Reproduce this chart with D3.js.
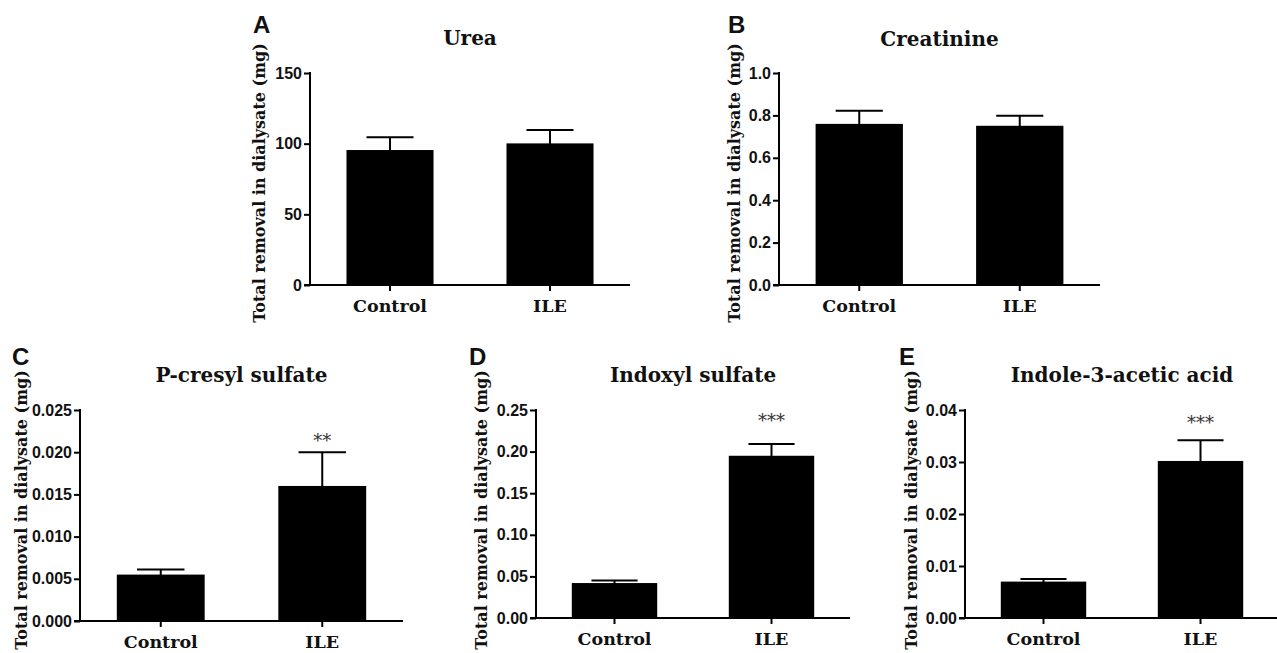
<!DOCTYPE html>
<html>
<head>
<meta charset="utf-8">
<script src="https://cdn.jsdelivr.net/npm/d3@7"></script>
<style>
  html, body { margin: 0; padding: 0; background: #fff; }
  svg { display: block; }
</style>
</head>
<body>
<svg id="chart" width="1277" height="653"></svg>
<script>
// ---------------- DATA ----------------
const categories = ["Control", "ILE"];
const panelLetters = ["A", "B", "C", "D", "E"];
const panelTitles = ["Urea", "Creatinine", "P-cresyl sulfate", "Indoxyl sulfate", "Indole-3-acetic acid"];
const yAxisTitle = "Total removal in dialysate (mg)";

const ureaMeans = [95.5, 100.2];
const ureaErrors = [9.0, 9.5];
const ureaTicks = [0, 50, 100, 150];

const creatinineMeans = [0.760, 0.751];
const creatinineErrors = [0.062, 0.047];
const creatinineTicks = [0.0, 0.2, 0.4, 0.6, 0.8, 1.0];

const pcresylMeans = [0.0055, 0.0160];
const pcresylErrors = [0.0006, 0.0040];
const pcresylTicks = [0.000, 0.005, 0.010, 0.015, 0.020, 0.025];

const indoxylMeans = [0.042, 0.195];
const indoxylErrors = [0.003, 0.014];
const indoxylTicks = [0.00, 0.05, 0.10, 0.15, 0.20, 0.25];

const iaaMeans = [0.0070, 0.0302];
const iaaErrors = [0.0005, 0.0040];
const iaaTicks = [0.00, 0.01, 0.02, 0.03, 0.04];

const significance = ["", "", "**", "***", "***"];
const significanceLevel = [null, null, 0.0206, 0.230, 0.0364];

// ---------------- LAYOUT ----------------
const allMeans = [ureaMeans, creatinineMeans, pcresylMeans, indoxylMeans, iaaMeans];
const allErrors = [ureaErrors, creatinineErrors, pcresylErrors, indoxylErrors, iaaErrors];
const allTicks = [ureaTicks, creatinineTicks, pcresylTicks, indoxylTicks, iaaTicks];
const tickFormats = [d3.format("d"), d3.format(".1f"), d3.format(".3f"), d3.format(".2f"), d3.format(".2f")];

const layout = [
  { lx: 253, ly: 33,  x0: 310, x1: 630,  yTop: 73,  yBot: 285, titleY: 45,  labX: 265, labCY: 183 },
  { lx: 728, ly: 33,  x0: 779, x1: 1100, yTop: 73,  yBot: 285, titleY: 46,  labX: 740, labCY: 183 },
  { lx: 12,  ly: 365, x0: 80,  x1: 403,  yTop: 410, yBot: 621, titleY: 382, labX: 27,  labCY: 510 },
  { lx: 469, ly: 365, x0: 536, x1: 850,  yTop: 410, yBot: 618, titleY: 382, labX: 487, labCY: 510 },
  { lx: 899, ly: 365, x0: 965, x1: 1279, yTop: 410, yBot: 618, titleY: 382, labX: 917, labCY: 510 }
];

const svg = d3.select("#chart");
const serif = "'DejaVu Serif', serif";
const sans = "'Liberation Sans', Arial, sans-serif";

layout.forEach((L, i) => {
  const g = svg.append("g");
  const ticks = allTicks[i];
  const x = d3.scaleBand().domain(categories).range([L.x0, L.x1])
    .paddingInner(0.456).paddingOuter(0.228);
  const y = d3.scaleLinear().domain([0, ticks[ticks.length - 1]]).range([L.yBot, L.yTop]);

  // panel letter
  g.append("text").attr("x", L.lx).attr("y", L.ly)
    .attr("font-family", sans).attr("font-weight", "bold").attr("font-size", 24)
    .attr("fill", "#111").text(panelLetters[i]);

  // title
  g.append("text").attr("x", (L.x0 + L.x1) / 2).attr("y", L.titleY)
    .attr("text-anchor", "middle").attr("font-family", serif).attr("font-weight", "bold")
    .attr("font-size", 20).attr("fill", "#111").text(panelTitles[i]);

  // y axis title
  g.append("text")
    .attr("transform", `translate(${L.labX},${L.labCY}) rotate(-90)`)
    .attr("text-anchor", "middle").attr("font-family", serif).attr("font-weight", "bold")
    .attr("font-size", 16).attr("fill", "#111").text(yAxisTitle);

  // bars
  const means = allMeans[i], errs = allErrors[i];
  g.selectAll("rect.bar").data(categories).join("rect")
    .attr("class", "bar")
    .attr("x", d => x(d)).attr("width", x.bandwidth())
    .attr("y", (d, k) => y(means[k])).attr("height", (d, k) => y(0) - y(means[k]))
    .attr("fill", "#000");

  // error bars (upper)
  const capHalf = x.bandwidth() * 0.27;
  categories.forEach((c, k) => {
    const cx = x(c) + x.bandwidth() / 2;
    g.append("line").attr("x1", cx).attr("x2", cx)
      .attr("y1", y(means[k]) + 2).attr("y2", y(means[k] + errs[k]))
      .attr("stroke", "#000").attr("stroke-width", 2);
    g.append("line").attr("x1", cx - capHalf).attr("x2", cx + capHalf)
      .attr("y1", y(means[k] + errs[k])).attr("y2", y(means[k] + errs[k]))
      .attr("stroke", "#000").attr("stroke-width", 2);
  });

  // y axis
  const yAxis = d3.axisLeft(y).tickValues(ticks).tickFormat(tickFormats[i])
    .tickSize(6).tickPadding(2).tickSizeOuter(0);
  const ya = g.append("g").attr("transform", `translate(${L.x0},0)`).call(yAxis);
  ya.select(".domain").attr("stroke", "#000").attr("stroke-width", 2)
    .attr("d", `M0,${L.yTop - 1}V${L.yBot + 1}`);
  ya.selectAll(".tick line").attr("stroke", "#000").attr("stroke-width", 2);
  ya.selectAll(".tick text").attr("font-family", sans).attr("font-weight", "bold")
    .attr("font-size", 16).attr("fill", "#111");

  // x axis
  const xAxis = d3.axisBottom(x).tickSize(6).tickPadding(9).tickSizeOuter(0);
  const xa = g.append("g").attr("transform", `translate(0,${L.yBot})`).call(xAxis);
  xa.select(".domain").attr("stroke", "#000").attr("stroke-width", 2)
    .attr("d", `M${L.x0 - 6},0H${L.x1}`);
  xa.selectAll(".tick line").attr("stroke", "#000").attr("stroke-width", 2);
  xa.selectAll(".tick text").attr("font-family", serif).attr("font-weight", "bold")
    .attr("font-size", 17.5).attr("fill", "#111");

  // significance stars
  if (significance[i]) {
    const cx = x(categories[1]) + x.bandwidth() / 2;
    g.append("text").attr("x", cx).attr("y", y(significanceLevel[i]))
      .attr("text-anchor", "middle").attr("font-family", serif)
      .attr("font-size", 18).attr("fill", "#333").text(significance[i]);
  }
});
</script>
</body>
</html>
